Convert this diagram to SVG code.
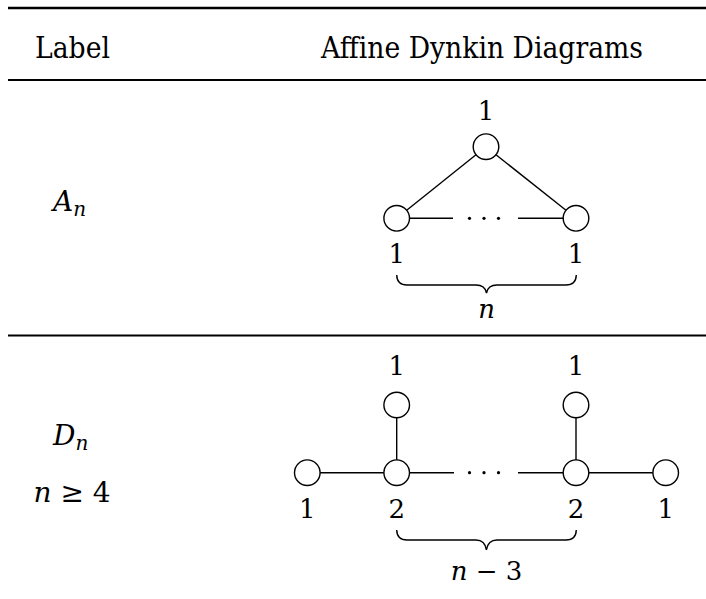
<svg xmlns="http://www.w3.org/2000/svg" width="706" height="599" viewBox="0 0 706 599">
<style>
text{font-family:'DejaVu Serif','Liberation Serif',serif;fill:#000}
.hd{font-size:29px}
.lb{font-size:28px}
.it{font-style:italic}
.num{font-size:26px;text-anchor:middle}
.node{fill:#fff;stroke:#000;stroke-width:1.4}
.edge{stroke:#000;stroke-width:1.4;fill:none}
.brace{stroke:#000;stroke-width:1.4;fill:none}
.dot{fill:#000}
</style>
<rect width="706" height="599" fill="#fff"/>
<line x1="8" y1="8" x2="706" y2="8" stroke="#000" stroke-width="2.6"/>
<line x1="8" y1="80" x2="706" y2="80" stroke="#000" stroke-width="2"/>
<line x1="8" y1="335.5" x2="706" y2="335.5" stroke="#000" stroke-width="2"/>
<text class="hd" x="35" y="58" textLength="75" lengthAdjust="spacingAndGlyphs">Label</text>
<text class="hd" x="321" y="58" textLength="322" lengthAdjust="spacingAndGlyphs">Affine Dynkin Diagrams</text>
<text class="lb" x="53" y="211"><tspan class="it">A</tspan><tspan class="it" font-size="20" dy="5">n</tspan></text>
<text class="lb" x="53" y="445"><tspan class="it">D</tspan><tspan class="it" font-size="20" dy="5">n</tspan></text>
<text class="lb" x="72" y="501.5" text-anchor="middle"><tspan class="it">n</tspan> ≥ 4</text>
<g id="connectors-A">
<line class="edge" x1="476" y1="154.7" x2="406.7" y2="210.3"/>
<line class="edge" x1="496" y1="154.7" x2="566" y2="210.3"/>
<line class="edge" x1="409.5" y1="218.3" x2="453" y2="218.3"/>
<line class="edge" x1="518" y1="218.3" x2="563.2" y2="218.3"/>
<circle class="dot" cx="469.5" cy="218.3" r="1.6"/>
<circle class="dot" cx="484" cy="218.3" r="1.6"/>
<circle class="dot" cx="498.5" cy="218.3" r="1.6"/>
<path class="brace" d="M396.7,275 Q397,285 407,285 L476,285 Q485,285 486.5,293 Q488,285 497,285 L566,285 Q576,285 576.3,275"/>
</g>
<g id="A-top"><circle class="node" cx="486" cy="146.7" r="12.8"/><text class="num" x="486" y="120">1</text></g>
<g id="A-left"><circle class="node" cx="396.7" cy="218.3" r="12.8"/><text class="num" x="396.7" y="263">1</text></g>
<g id="A-right"><circle class="node" cx="576" cy="218.3" r="12.8"/><text class="num" x="576" y="263">1</text></g>
<text class="num it" x="486.5" y="318">n</text>
<g id="connectors-D">
<line class="edge" x1="320.1" y1="472.7" x2="383.9" y2="472.7"/>
<line class="edge" x1="409.5" y1="472.7" x2="454" y2="472.7"/>
<line class="edge" x1="518" y1="472.7" x2="563.2" y2="472.7"/>
<line class="edge" x1="588.8" y1="472.7" x2="652.9" y2="472.7"/>
<line class="edge" x1="396.7" y1="417.8" x2="396.7" y2="459.9"/>
<line class="edge" x1="576" y1="417.8" x2="576" y2="459.9"/>
<circle class="dot" cx="469.5" cy="472.7" r="1.6"/>
<circle class="dot" cx="484" cy="472.7" r="1.6"/>
<circle class="dot" cx="498.5" cy="472.7" r="1.6"/>
<path class="brace" d="M396.7,530 Q397,540 407,540 L476,540 Q485,540 486.4,550 Q488,540 497,540 L566,540 Q576,540 576.3,530"/>
</g>
<g id="D-end-left"><circle class="node" cx="307.3" cy="472.7" r="12.8"/><text class="num" x="307.3" y="518">1</text></g>
<g id="D-branch-left"><circle class="node" cx="396.7" cy="472.7" r="12.8"/><text class="num" x="396.7" y="518">2</text></g>
<g id="D-branch-right"><circle class="node" cx="576" cy="472.7" r="12.8"/><text class="num" x="576" y="518">2</text></g>
<g id="D-end-right"><circle class="node" cx="665.7" cy="472.7" r="12.8"/><text class="num" x="665.7" y="518">1</text></g>
<g id="D-top-left"><circle class="node" cx="396.7" cy="405" r="12.8"/><text class="num" x="396.7" y="375">1</text></g>
<g id="D-top-right"><circle class="node" cx="576" cy="405" r="12.8"/><text class="num" x="576" y="375">1</text></g>
<text class="num" x="486.5" y="580"><tspan class="it">n</tspan> − 3</text>
</svg>
